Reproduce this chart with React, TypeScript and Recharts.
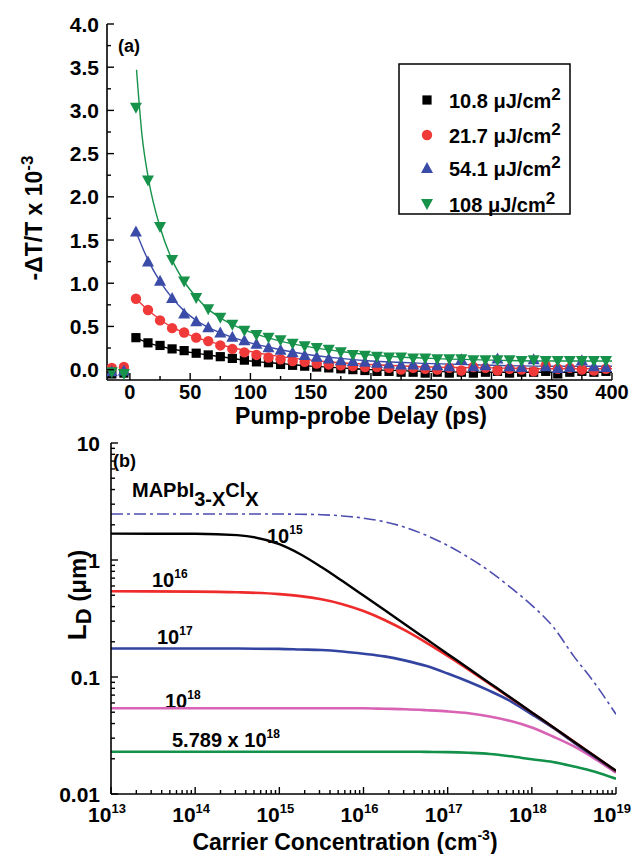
import React from 'react';
import { ComposedChart, LineChart, Line, Scatter, XAxis, YAxis } from 'recharts';

const FONT = '"Liberation Sans", Arial, Helvetica, sans-serif';

// ---------- Panel (a) data ----------
const delays = [-15, -5, 5, 15, 25, 35, 45, 55, 65, 75, 85, 95, 105, 115, 125, 135, 145, 155, 165, 175, 185, 195, 205, 215, 225, 235, 245, 255, 265, 275, 285, 295, 305, 315, 325, 335, 345, 355, 365, 375, 385, 395];
const sig10_8 = [-0.05, -0.04, 0.37, 0.31, 0.28, 0.24, 0.22, 0.19, 0.17, 0.15, 0.13, 0.11, 0.09, 0.08, 0.06, 0.05, 0.04, 0.03, 0.02, 0.01, 0.0, -0.01, -0.02, -0.02, -0.03, -0.03, -0.04, -0.03, -0.04, -0.03, -0.04, -0.03, -0.02, -0.04, -0.03, -0.03, -0.02, -0.05, -0.03, -0.02, -0.03, -0.02];
const sig21_7 = [0.02, 0.03, 0.82, 0.69, 0.57, 0.48, 0.43, 0.37, 0.33, 0.28, 0.24, 0.2, 0.17, 0.14, 0.12, 0.1, 0.09, 0.07, 0.06, 0.05, 0.04, 0.03, 0.03, 0.02, 0.0, 0.02, 0.01, 0.0, 0.02, -0.01, 0.03, 0.02, -0.01, 0.01, 0.0, -0.02, 0.05, 0.01, 0.02, 0.0, -0.01, 0.01];
const sig54_1 = [-0.02, -0.01, 1.6, 1.25, 1.03, 0.83, 0.65, 0.56, 0.49, 0.43, 0.38, 0.34, 0.3, 0.26, 0.23, 0.2, 0.17, 0.15, 0.13, 0.11, 0.1, 0.09, 0.08, 0.07, 0.06, 0.06, 0.05, 0.05, 0.04, 0.12, 0.04, 0.05, 0.13, 0.04, 0.03, 0.12, 0.04, 0.02, 0.03, 0.11, 0.04, 0.03];
const sig108 = [-0.03, -0.05, 3.03, 2.19, 1.65, 1.27, 1.02, 0.83, 0.7, 0.6, 0.52, 0.45, 0.4, 0.37, 0.34, 0.3, 0.27, 0.25, 0.23, 0.2, 0.17, 0.16, 0.15, 0.14, 0.14, 0.13, 0.13, 0.12, 0.12, 0.12, 0.11, 0.11, 0.11, 0.11, 0.1, 0.11, 0.1, 0.1, 0.1, 0.1, 0.1, 0.1];

const fitDelay108 = [5.5, 10, 15.5, 25, 35, 45, 55, 65, 75, 90, 105, 125, 150, 175, 200, 250, 300, 350, 400];
const fit108 = [3.47, 2.72, 2.2, 1.65, 1.27, 1.02, 0.84, 0.7, 0.6, 0.49, 0.41, 0.33, 0.26, 0.21, 0.17, 0.13, 0.11, 0.1, 0.1];
const fitDelay = [5, 15, 25, 35, 45, 55, 65, 80, 100, 125, 150, 175, 200, 250, 300, 350, 400];
const fit54_1 = [1.6, 1.27, 1.02, 0.83, 0.68, 0.57, 0.49, 0.4, 0.31, 0.23, 0.17, 0.13, 0.1, 0.07, 0.05, 0.04, 0.04];
const fit21_7 = [0.82, 0.69, 0.58, 0.49, 0.43, 0.37, 0.33, 0.27, 0.21, 0.15, 0.11, 0.08, 0.06, 0.03, 0.02, 0.01, 0.01];
const fit10_8 = [0.37, 0.31, 0.27, 0.24, 0.21, 0.19, 0.17, 0.14, 0.1, 0.07, 0.04, 0.02, 0.0, -0.02, -0.03, -0.03, -0.03];

const fluenceLabels = ['10.8', '21.7', '54.1', '108'];
const delayTicks = [0, 25, 50, 75, 100, 125, 150, 175, 200, 225, 250, 275, 300, 325, 350, 375, 400];
const signalTicks = [0, 0.25, 0.5, 0.75, 1, 1.25, 1.5, 1.75, 2, 2.25, 2.5, 2.75, 3, 3.25, 3.5, 3.75, 4];

// ---------- Panel (b) data ----------
const logN = [13, 14, 14.5, 15, 15.25, 15.5, 15.75, 16, 16.25, 16.5, 16.75, 17, 17.25, 17.5, 17.75, 18, 18.25, 18.5, 18.75, 19];
const ld1e15 = [1.68, 1.675, 1.63, 1.365, 1.12, 0.87, 0.66, 0.497, 0.3735, 0.28, 0.21, 0.1575, 0.118, 0.0886, 0.0665, 0.0498, 0.0374, 0.028, 0.021, 0.0158];
const ld1e16 = [0.54, 0.537, 0.53, 0.511, 0.491, 0.461, 0.419, 0.366, 0.307, 0.2486, 0.1957, 0.1512, 0.1153, 0.0874, 0.066, 0.0497, 0.0374, 0.028, 0.021, 0.0157];
const ld1e17 = [0.175, 0.175, 0.175, 0.174, 0.172, 0.17, 0.165, 0.158, 0.15, 0.138, 0.124, 0.107, 0.091, 0.076, 0.062, 0.048, 0.0368, 0.0275, 0.0207, 0.0156];
const ld1e18 = [0.054, 0.054, 0.054, 0.054, 0.054, 0.054, 0.054, 0.054, 0.0535, 0.053, 0.052, 0.0508, 0.049, 0.046, 0.042, 0.037, 0.031, 0.0255, 0.02, 0.0152];
const ld5789e18 = [0.023, 0.023, 0.023, 0.023, 0.023, 0.023, 0.023, 0.023, 0.023, 0.023, 0.0229, 0.0228, 0.0225, 0.022, 0.021, 0.0198, 0.0188, 0.0172, 0.0155, 0.0135];
const ldNoTrap = [2.47, 2.47, 2.47, 2.47, 2.46, 2.44, 2.38, 2.28, 2.12, 1.9, 1.62, 1.33, 1.05, 0.8, 0.58, 0.41, 0.27, 0.15, 0.088, 0.048];

const decadesX = [13, 14, 15, 16, 17, 18, 19];
const decadesY = [-2, -1, 0, 1];

// ---------- helpers ----------
const toPts = (xs: number[], ys: number[]) => xs.map((x, i) => ({ x, y: ys[i] }));
const toLogPts = (es: number[], ys: number[]) => es.map((e, i) => ({ x: Math.pow(10, e), y: ys[i] }));

const logTicks = (decs: number[]) => {
  const out: number[] = [];
  decs.forEach((d, i) => {
    if (i === decs.length - 1) { out.push(Math.pow(10, d)); return; }
    for (let k = 1; k <= 9; k++) out.push(k * Math.pow(10, d));
  });
  return out;
};
const isDecade = (v: number) => Math.abs(Math.log10(v) - Math.round(Math.log10(v))) < 1e-6;

type Side = 'bottom' | 'top' | 'left' | 'right';
const makeTick = (
  side: Side,
  margin: number,
  isMajor: (v: number) => boolean,
  label: ((v: number) => React.ReactNode) | null,
  textProps: any = {},
  majorLen = 7,
  minorLen = 4,
) => (props: any) => {
  const { x, y, payload } = props;
  const v = payload.value;
  const major = isMajor(v);
  const len = major ? majorLen : minorLen;
  let line: React.ReactNode = null;
  if (side === 'bottom') { const a = y - margin; line = <line x1={x} x2={x} y1={a} y2={a - len} stroke="#000" strokeWidth={1.4} />; }
  if (side === 'top') { const a = y + margin; line = <line x1={x} x2={x} y1={a} y2={a + len} stroke="#000" strokeWidth={1.4} />; }
  if (side === 'left') { const a = x + margin; line = <line x1={a} x2={a + len} y1={y} y2={y} stroke="#000" strokeWidth={1.4} />; }
  if (side === 'right') { const a = x - margin; line = <line x1={a} x2={a - len} y1={y} y2={y} stroke="#000" strokeWidth={1.4} />; }
  let text: React.ReactNode = null;
  if (label && major) {
    const { dx = 0, ...rest } = textProps;
    const common = { fontFamily: FONT, fontWeight: 700, fill: '#000', ...rest };
    if (side === 'bottom') text = <text x={x + dx} y={y} dy="0.72em" textAnchor="middle" {...common}>{label(v)}</text>;
    if (side === 'left') text = <text x={x + dx} y={y} dy="0.36em" textAnchor="end" {...common}>{label(v)}</text>;
  }
  return <g>{line}{text}</g>;
};

const Marker = ({ kind, cx, cy, color }: { kind: string; cx: number; cy: number; color: string }) => {
  if (cx == null || cy == null) return null;
  if (kind === 'square') return <rect x={cx - 4.6} y={cy - 4.6} width={9.2} height={9.2} fill={color} />;
  if (kind === 'circle') return <circle cx={cx} cy={cy} r={5.2} fill={color} />;
  if (kind === 'up') return <polygon points={`${cx},${cy - 6} ${cx + 6},${cy + 5} ${cx - 6},${cy + 5}`} fill={color} />;
  return <polygon points={`${cx},${cy + 6} ${cx + 6},${cy - 5} ${cx - 6},${cy - 5}`} fill={color} />;
};

const C_BLACK = '#000000';
const C_RED = '#f03a3a';
const C_BLUE = '#3b4ca8';
const C_GREEN = '#16924a';

const seriesA = [
  { key: 's10', data: sig10_8, fitX: fitDelay, fit: fit10_8, color: C_BLACK, kind: 'square' },
  { key: 's21', data: sig21_7, fitX: fitDelay, fit: fit21_7, color: C_RED, kind: 'circle' },
  { key: 's54', data: sig54_1, fitX: fitDelay, fit: fit54_1, color: C_BLUE, kind: 'up' },
  { key: 's108', data: sig108, fitX: fitDelay108, fit: fit108, color: C_GREEN, kind: 'down' },
];

const TICK_FS = 21;

const PanelA = () => {
  const isMajX = (v: number) => Math.abs(v % 50) < 1e-6;
  const isMajY = (v: number) => Math.abs((v * 2) - Math.round(v * 2)) < 1e-6;
  const legendRows = [100, 135, 168, 204];
  return (
    <ComposedChart width={633} height={432} margin={{ top: 24, right: 21, bottom: 0, left: 0 }} style={{ overflow: 'visible' }}>
      <XAxis dataKey="x" type="number" domain={[-19, 400]} ticks={delayTicks} interval={0} allowDataOverflow
        height={52} tickSize={0} tickMargin={5} axisLine={{ stroke: '#000', strokeWidth: 1.6 }} tickLine={false}
        tick={makeTick('bottom', 5, isMajX, (v) => String(v), { fontSize: 20 })} />
      <XAxis xAxisId="top" orientation="top" dataKey="x" type="number" domain={[-19, 400]} ticks={delayTicks} interval={0}
        allowDataOverflow height={0} tickSize={0} tickMargin={0} axisLine={{ stroke: '#000', strokeWidth: 1.6 }} tickLine={false}
        tick={makeTick('top', 0, isMajX, null)} />
      <YAxis dataKey="y" type="number" domain={[-0.12, 4]} ticks={signalTicks} interval={0} allowDataOverflow
        width={107} tickSize={0} tickMargin={8} axisLine={{ stroke: '#000', strokeWidth: 1.6 }} tickLine={false}
        tick={makeTick('left', 8, isMajY, (v) => v.toFixed(1), { fontSize: TICK_FS })} />
      <YAxis yAxisId="right" orientation="right" type="number" domain={[-0.12, 4]} ticks={signalTicks} interval={0}
        allowDataOverflow width={0} tickSize={0} tickMargin={0} axisLine={{ stroke: '#000', strokeWidth: 1.6 }} tickLine={false}
        tick={makeTick('right', 0, isMajY, null)} />
      {seriesA.map((s) => (
        <Scatter key={s.key} data={toPts(delays, s.data)} dataKey="y" fill={s.color} isAnimationActive={false}
          shape={(p: any) => <Marker kind={s.kind} cx={p.cx} cy={p.cy} color={s.color} />} />
      ))}
      {seriesA.map((s) => (
        <Line key={s.key + 'fit'} data={toPts(s.fitX, s.fit)} dataKey="y" type="monotone" stroke={s.color}
          strokeWidth={1.4} dot={false} activeDot={false} isAnimationActive={false} />
      ))}
      <text x={118} y={52} fontFamily={FONT} fontWeight={700} fontSize={18}>(a)</text>
      <rect x={399} y={64} width={171} height={150} fill="#fff" stroke="#000" strokeWidth={1.5} />
      {seriesA.map((s, i) => (
        <g key={s.key + 'leg'}>
          <Marker kind={s.kind} cx={427} cy={legendRows[i]} color={s.color} />
          <text x={449} y={legendRows[i] + 8} fontFamily={FONT} fontWeight={700} fontSize={20} fill="#000">
            {fluenceLabels[i]} μJ/cm<tspan dy={-8} fontSize={17}>2</tspan>
          </text>
        </g>
      ))}
      <text transform="translate(42,218) rotate(-90)" textAnchor="middle" fontFamily={FONT} fontWeight={700} fontSize={23} fill="#000">
        -ΔT/T x 10<tspan dy={-9} fontSize={17}>-3</tspan>
      </text>
      <text x={361} y={424} textAnchor="middle" fontFamily={FONT} fontWeight={700} fontSize={23} fill="#000">Pump-probe Delay (ps)</text>
    </ComposedChart>
  );
};

const C2_BLACK = '#000000';
const C2_RED = '#ee2a2a';
const C2_BLUE = '#3344a0';
const C2_PINK = '#d862b4';
const C2_GREEN = '#12914a';
const C2_DASH = '#4d4db0';

const seriesB = [
  { key: 'd', ys: ldNoTrap, color: C2_DASH, dash: '12 4 3 4', w: 1.6 },
  { key: 'g', ys: ld5789e18, color: C2_GREEN, dash: undefined, w: 2.6 },
  { key: 'p', ys: ld1e18, color: C2_PINK, dash: undefined, w: 2.6 },
  { key: 'b', ys: ld1e17, color: C2_BLUE, dash: undefined, w: 2.6 },
  { key: 'r', ys: ld1e16, color: C2_RED, dash: undefined, w: 2.6 },
  { key: 'k', ys: ld1e15, color: C2_BLACK, dash: undefined, w: 2.4 },
];

const ExpLabel = ({ x, y, base, exp, fs = 20, efs = 12, anchor = 'start' }: any) => (
  <text x={x} y={y} textAnchor={anchor} fontFamily={FONT} fontWeight={700} fontSize={fs} fill="#000">
    {base}<tspan dy={-9} fontSize={efs}>{exp}</tspan>
  </text>
);

const PanelB = () => {
  const xt = logTicks(decadesX);
  const yt = logTicks(decadesY);
  return (
    <LineChart width={633} height={424} margin={{ top: 13, right: 17, bottom: 0, left: 0 }}>
      <XAxis dataKey="x" type="number" scale="log" domain={[1e13, 1e19]} ticks={xt} interval={0} allowDataOverflow
        height={60} tickSize={0} tickMargin={13} axisLine={{ stroke: '#000', strokeWidth: 1.6 }} tickLine={false}
        tick={makeTick('bottom', 13, isDecade, (v) => (
          <>10<tspan dy={-9} fontSize={13}>{Math.round(Math.log10(v))}</tspan></>
        ), { fontSize: TICK_FS, dx: -4 })} />
      <XAxis xAxisId="top" orientation="top" dataKey="x" type="number" scale="log" domain={[1e13, 1e19]} ticks={xt}
        interval={0} allowDataOverflow height={0} tickSize={0} tickMargin={0} axisLine={{ stroke: '#000', strokeWidth: 1.6 }}
        tickLine={false} tick={makeTick('top', 0, isDecade, null)} />
      <YAxis dataKey="y" type="number" scale="log" domain={[0.01, 10]} ticks={yt} interval={0} allowDataOverflow
        width={111} tickSize={0} tickMargin={11} axisLine={{ stroke: '#000', strokeWidth: 1.6 }} tickLine={false}
        tick={makeTick('left', 11, isDecade, (v) => String(Number(v.toPrecision(3))), { fontSize: TICK_FS })} />
      <YAxis yAxisId="right" orientation="right" type="number" scale="log" domain={[0.01, 10]} ticks={yt} interval={0}
        allowDataOverflow width={0} tickSize={0} tickMargin={0} axisLine={{ stroke: '#000', strokeWidth: 1.6 }}
        tickLine={false} tick={makeTick('right', 0, isDecade, null)} />
      {seriesB.map((s) => (
        <Line key={s.key} data={toLogPts(logN, s.ys)} dataKey="y" type="monotone" stroke={s.color}
          strokeWidth={s.w} strokeDasharray={s.dash} dot={false} activeDot={false} isAnimationActive={false} />
      ))}
      <text x={113} y={37} fontFamily={FONT} fontWeight={700} fontSize={18} fill="#000">(b)</text>
      <text x={132} y={67} fontFamily={FONT} fontWeight={700} fontSize={20} fill="#000">
        MAPbI<tspan dy={9} fontSize={20}>3-X</tspan><tspan dy={-9}>Cl</tspan><tspan dy={9}>X</tspan>
      </text>
      <ExpLabel x={267} y={113} base="10" exp="15" />
      <ExpLabel x={152} y={157} base="10" exp="16" />
      <ExpLabel x={157} y={214} base="10" exp="17" />
      <ExpLabel x={165} y={278} base="10" exp="18" />
      <ExpLabel x={172} y={317} base="5.789 x 10" exp="18" />
      <text transform="translate(86,165) rotate(-90)" textAnchor="middle" fontFamily={FONT} fontWeight={700} fontSize={26} fill="#000">
        L<tspan dy={5} fontSize={22}>D</tspan><tspan dy={-5} fontSize={24}> (μm)</tspan>
      </text>
      <text x={345} y={420} textAnchor="middle" fontFamily={FONT} fontWeight={700} fontSize={23} fill="#000">
        Carrier Concentration (cm<tspan dy={-10} fontSize={14}>-3</tspan><tspan dy={10}>)</tspan>
      </text>
    </LineChart>
  );
};

export default function App() {
  return (
    <div style={{ position: 'absolute', left: 0, top: 0, width: 633, height: 854, background: '#fff' }}>
      <div style={{ position: 'absolute', left: 0, top: 430 }}>
        <PanelB />
      </div>
      <div style={{ position: 'absolute', left: 0, top: 0 }}>
        <PanelA />
      </div>
    </div>
  );
}
